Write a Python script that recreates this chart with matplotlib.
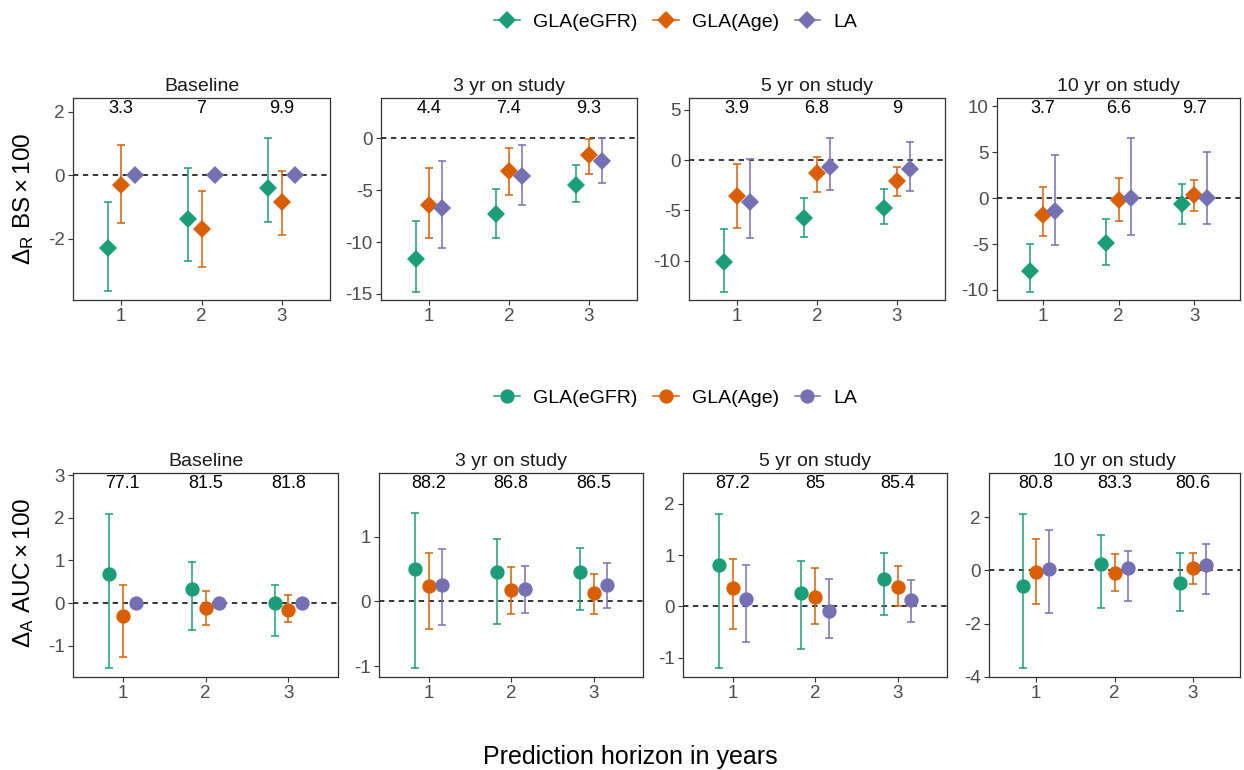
import matplotlib
matplotlib.use("Agg")
import matplotlib.pyplot as plt
from matplotlib.lines import Line2D
import matplotlib.transforms as mtransforms

plt.rcParams['font.family'] = ['Liberation Sans', 'DejaVu Sans']
plt.rcParams['mathtext.fontset'] = 'custom'
plt.rcParams['mathtext.rm'] = 'Liberation Sans'
plt.rcParams['mathtext.it'] = 'Liberation Sans:italic'
plt.rcParams['mathtext.bf'] = 'Liberation Sans:bold'

# ---------------- data ----------------
horizons = [1, 2, 3]
methods = ['GLA(eGFR)', 'GLA(Age)', 'LA']
panel_titles = ['Baseline', '3 yr on study', '5 yr on study', '10 yr on study']
colors = ['#1B9E77', '#D95F02', '#7570B3']

# Delta_R BS x 100 : [panel][method][horizon]
bs_est = [
    [[-2.29, -1.39, -0.39], [-0.32, -1.71, -0.85], [0.0, 0.0, 0.0]],
    [[-11.68, -7.26, -4.48], [-6.39, -3.13, -1.61], [-6.68, -3.61, -2.23]],
    [[-10.17, -5.80, -4.73], [-3.60, -1.33, -2.07], [-4.13, -0.70, -0.87]],
    [[-7.88, -4.93, -0.66], [-1.79, -0.15, 0.33], [-1.42, 0.0, 0.0]],
]
bs_lower = [
    [[-3.67, -2.71, -1.49], [-1.51, -2.90, -1.90], [0.0, 0.0, 0.0]],
    [[-14.81, -9.61, -6.13], [-9.61, -5.48, -3.45], [-10.55, -6.48, -4.29]],
    [[-13.13, -7.63, -6.40], [-6.77, -3.23, -3.60], [-7.80, -3.00, -3.10]],
    [[-10.22, -7.30, -2.85], [-4.16, -2.45, -1.39], [-5.07, -4.05, -2.85]],
]
bs_upper = [
    [[-0.84, 0.23, 1.19], [0.94, -0.51, 0.14], [0.0, 0.0, 0.0]],
    [[-7.94, -4.94, -2.58], [-2.90, -0.94, -0.10], [-2.16, -0.65, 0.0]],
    [[-6.90, -3.80, -2.87], [-0.40, 0.33, -0.67], [0.10, 2.20, 1.80]],
    [[-5.04, -2.26, 1.53], [1.17, 2.23, 2.00], [4.74, 6.60, 5.07]],
]
bs_ref = [[3.3, 7, 9.9], [4.4, 7.4, 9.3], [3.9, 6.8, 9], [3.7, 6.6, 9.7]]

# Delta_A AUC x 100 : [panel][method][horizon]
auc_est = [
    [[0.68, 0.33, 0.0], [-0.31, -0.11, -0.15], [0.0, 0.0, 0.0]],
    [[0.51, 0.46, 0.46], [0.24, 0.17, 0.13], [0.25, 0.20, 0.25]],
    [[0.80, 0.26, 0.53], [0.35, 0.18, 0.37], [0.14, -0.10, 0.13]],
    [[-0.58, 0.24, -0.48], [-0.06, -0.11, 0.09], [0.05, 0.10, 0.20]],
]
auc_lower = [
    [[-1.52, -0.64, -0.78], [-1.25, -0.51, -0.44], [0.0, 0.0, 0.0]],
    [[-1.03, -0.35, -0.13], [-0.42, -0.20, -0.20], [-0.36, -0.18, -0.10]],
    [[-1.21, -0.84, -0.17], [-0.44, -0.35, 0.0], [-0.70, -0.61, -0.31]],
    [[-3.67, -1.41, -1.53], [-1.25, -0.77, -0.50], [-1.62, -1.14, -0.88]],
]
auc_upper = [
    [[2.09, 0.96, 0.42], [0.42, 0.28, 0.18], [0.0, 0.0, 0.0]],
    [[1.37, 0.97, 0.83], [0.75, 0.54, 0.42], [0.82, 0.55, 0.59]],
    [[1.80, 0.89, 1.04], [0.93, 0.74, 0.78], [0.80, 0.53, 0.52]],
    [[2.13, 1.33, 0.64], [1.18, 0.62, 0.64], [1.50, 0.74, 0.99]],
]
auc_ref = [[77.1, 81.5, 81.8], [88.2, 86.8, 86.5], [87.2, 85, 85.4], [80.8, 83.3, 80.6]]

# ---------------- layout ----------------
W, H = 1244, 770
fig = plt.figure(figsize=(W / 100, H / 100), dpi=100)

top_x = [(73, 330), (381, 637), (689, 945), (997, 1240)]
bot_x = [(73, 338), (379, 643), (683, 947), (989, 1240)]
top_y = (98, 300)
bot_y = (473, 677)

bs_ylim = [(-3.94, 2.44), (-15.58, 3.87), (-13.93, 6.17), (-11.09, 10.91)]
auc_ylim = [(-1.73, 3.05), (-1.17, 1.99), (-1.38, 2.60), (-4.01, 3.66)]
bs_yticks = [[-2, 0, 2], [-15, -10, -5, 0], [-10, -5, 0, 5], [-10, -5, 0, 5, 10]]
auc_yticks = [[-1, 0, 1, 2, 3], [-1, 0, 1], [-1, 0, 1, 2], [-4, -2, 0, 2]]

dodge = [-1 / 6, 0, 1 / 6]
spine_col = '#333333'
tick_col = '#4D4D4D'
DIAMOND = 9.0
CIRCLE = 10.3


def make_ax(xr, yr):
    return fig.add_axes([xr[0] / W, 1 - yr[1] / H, (xr[1] - xr[0]) / W, (yr[1] - yr[0]) / H])


def draw_panel(ax, est, lo, hi, ref, ylim, yticks, title, marker, msize):
    ax.axhline(0, color='black', lw=1.1, linestyle=(0, (3.5, 3)), zorder=1)
    for m in range(3):
        xs = [h + dodge[m] for h in horizons]
        yerr = [[est[m][i] - lo[m][i] for i in range(3)],
                [hi[m][i] - est[m][i] for i in range(3)]]
        ax.errorbar(xs, est[m], yerr=yerr, fmt='none', ecolor=colors[m],
                    elinewidth=1.1, capsize=2.8, capthick=1.1, zorder=2)
        ax.plot(xs, est[m], linestyle='none', marker=marker, markersize=msize,
                color=colors[m], markeredgewidth=0, zorder=3)
    trans = mtransforms.blended_transform_factory(ax.transData, ax.transAxes)
    for i, h in enumerate(horizons):
        ax.text(h, 0.947, '{:g}'.format(ref[i]), transform=trans, ha='center',
                va='center', fontsize=13, color='black')
    ax.set_xlim(0.4, 3.6)
    ax.set_ylim(*ylim)
    ax.set_xticks(horizons)
    ax.set_yticks(yticks)
    ax.set_yticklabels([str(t) for t in yticks])
    ax.tick_params(axis='both', colors=spine_col, labelcolor=tick_col,
                   labelsize=13.5, length=3.5, width=0.8, pad=2.5)
    for s in ax.spines.values():
        s.set_color(spine_col)
        s.set_linewidth(0.9)
    ax.set_title(title, fontsize=14, pad=5, color='#1A1A1A')


for p in range(4):
    ax = make_ax(top_x[p], top_y)
    draw_panel(ax, bs_est[p], bs_lower[p], bs_upper[p], bs_ref[p], bs_ylim[p],
               bs_yticks[p], panel_titles[p], 'D', DIAMOND)
    ax2 = make_ax(bot_x[p], bot_y)
    draw_panel(ax2, auc_est[p], auc_lower[p], auc_upper[p], auc_ref[p], auc_ylim[p],
               auc_yticks[p], panel_titles[p], 'o', CIRCLE)

# y labels
fig.text(24 / W, 1 - 199 / H, r'$\Delta_{\mathrm{R}}\ \mathrm{BS} \times 100$',
         rotation=90, ha='center', va='center', fontsize=17.5)
fig.text(24 / W, 1 - 573 / H, r'$\Delta_{\mathrm{A}}\ \mathrm{AUC} \times 100$',
         rotation=90, ha='center', va='center', fontsize=17.5)

# x label
fig.text(630 / W, 1 - 757 / H, 'Prediction horizon in years', ha='center',
         va='center', fontsize=18)

# legends
def legend_handles(marker, msize):
    return [Line2D([0], [0], color=colors[m], lw=1.1, marker=marker,
                   markersize=msize, markeredgewidth=0) for m in range(3)]

for marker, msize, yc in [('D', DIAMOND, 22), ('o', CIRCLE, 398)]:
    fig.legend(legend_handles(marker, msize), methods, loc='center',
               bbox_to_anchor=(676 / W, 1 - yc / H), ncol=3, frameon=False,
               fontsize=14, handlelength=1.3, handletextpad=0.7,
               columnspacing=0.8)

fig.savefig('out.png', dpi=100)
